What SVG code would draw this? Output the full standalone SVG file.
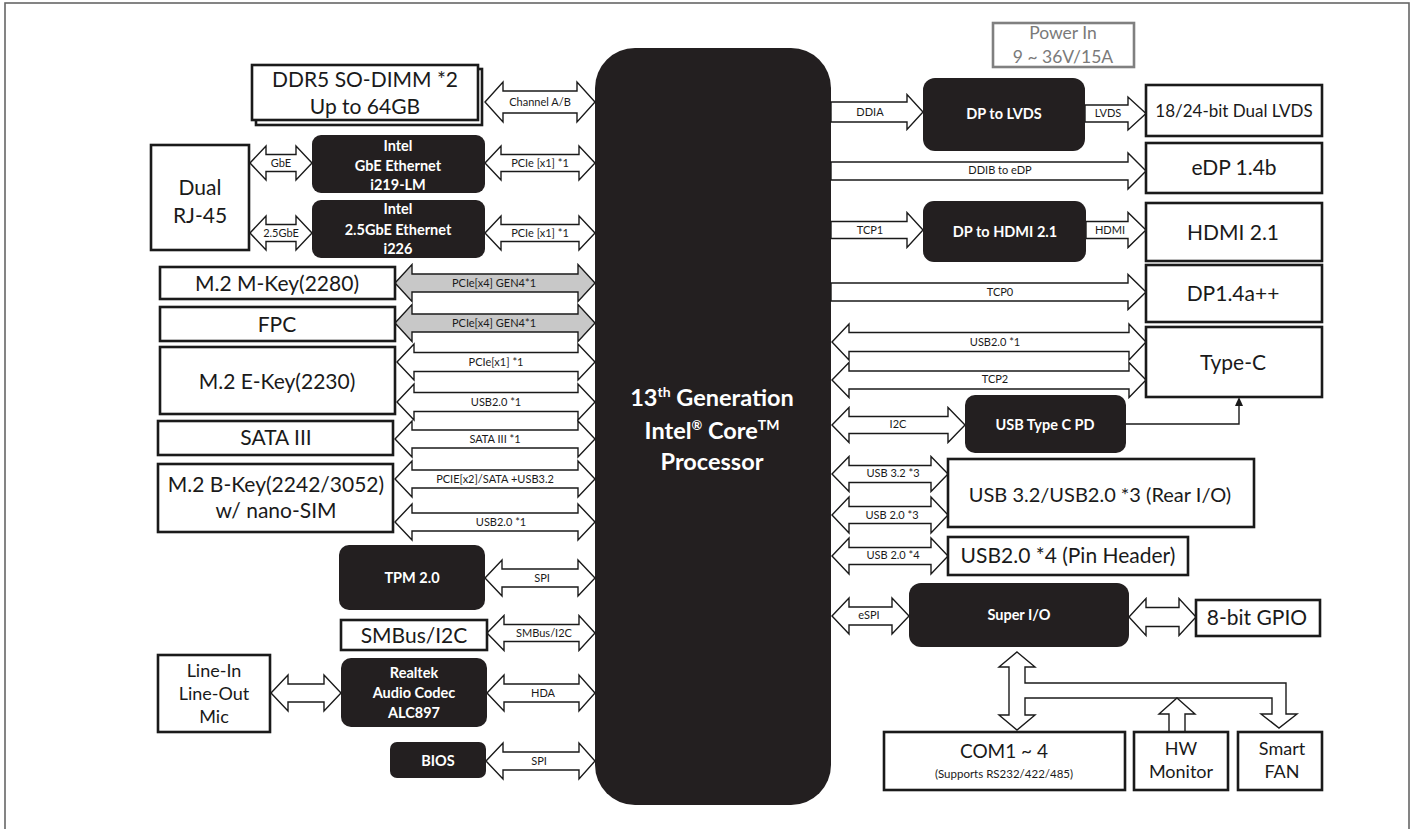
<svg xmlns="http://www.w3.org/2000/svg" width="1415" height="829" viewBox="0 0 1415 829">
<style>
.bx{fill:#fff;stroke:#1a1a1a;stroke-width:2.6}
.bk{fill:#231f20}
.ar{fill:#fff;stroke:#1a1a1a;stroke-width:1.4;stroke-linejoin:miter}
.ag{fill:#c8c8c8;stroke:#1a1a1a;stroke-width:1.4}
.t{font-family:Lato,"Liberation Sans",sans-serif;fill:#1a1a1a;text-anchor:middle}
.tl{font-size:21px}
.tm{font-size:18px}
.s{font-family:Lato,"Liberation Sans",sans-serif;fill:#1a1a1a;text-anchor:middle;font-size:11px}
.w{font-family:Lato,"Liberation Sans",sans-serif;fill:#fff;text-anchor:middle;font-weight:bold;font-size:14.5px}
</style>
<rect x="5" y="3" width="1404" height="840" fill="#fff" stroke="#666" stroke-width="1.6"/>

<g id="cpu">
<rect class="bk" x="595" y="48" width="236" height="757" rx="40"/>
<text class="w" style="font-size:23.5px" x="712" y="406">13<tspan font-size="14" dy="-9">th</tspan><tspan dy="9"> Generation</tspan></text>
<text class="w" style="font-size:23.5px" x="712" y="439">Intel<tspan font-size="13" dy="-9">®</tspan><tspan dy="9">  Core</tspan><tspan font-size="14" dy="-9">TM</tspan></text>
<text class="w" style="font-size:23.5px" x="712" y="470">Processor</text>
</g>

<g id="connectors">
<path class="ar" d="M485 102 L503 82 V91 H577 V82 L595 102 L577 122 V113 H503 V122 Z"/>
<path class="ar" d="M250 163 L266 146 V154.5 H296 V146 L312 163 L296 180 V171.5 H266 V180 Z"/>
<path class="ar" d="M485 163 L501 146 V154.5 H579 V146 L595 163 L579 180 V171.5 H501 V180 Z"/>
<path class="ar" d="M250 233 L266 216 V224.5 H296 V216 L312 233 L296 250 V241.5 H266 V250 Z"/>
<path class="ar" d="M485 233 L501 216 V224.5 H579 V216 L595 233 L579 250 V241.5 H501 V250 Z"/>
<path class="ag" d="M395 283 L412 264.5 V274 H578 V264.5 L595 283 L578 301.5 V292 H412 V301.5 Z"/>
<path class="ag" d="M395 323 L412 304.5 V314 H578 V304.5 L595 323 L578 341.5 V332 H412 V341.5 Z"/>
<path class="ar" d="M397 362 L414 344 V352.5 H578 V344 L595 362 L578 380 V371.5 H414 V380 Z"/>
<path class="ar" d="M397 402 L414 384 V392.5 H578 V384 L595 402 L578 420 V411.5 H414 V420 Z"/>
<path class="ar" d="M395 439 L412 421 V430 H578 V421 L595 439 L578 457 V448 H412 V457 Z"/>
<path class="ar" d="M395 479 L412 461 V470 H578 V461 L595 479 L578 497 V488 H412 V497 Z"/>
<path class="ar" d="M395 522 L412 504 V513 H578 V504 L595 522 L578 540 V531 H412 V540 Z"/>
<path class="ar" d="M485 578 L502 560 V569 H578 V560 L595 578 L578 596 V587 H502 V596 Z"/>
<path class="ar" d="M487 633 L504 615.5 V624.5 H579 V615.5 L595 633 L579 650.5 V641.5 H504 V650.5 Z"/>
<path class="ar" d="M487 693 L504 675 V684 H579 V675 L595 693 L579 711 V702 H504 V711 Z"/>
<path class="ar" d="M271 693 L288 675 V684 H324 V675 L341 693 L324 711 V702 H288 V711 Z"/>
<path class="ar" d="M486 761 L503 743 V752 H579 V743 L595 761 L579 779 V770 H503 V779 Z"/>

<path class="ar" d="M831 102 H907 V94.5 L923 112 L907 129.5 V122 H831 Z"/>
<path class="ar" d="M1085 105 H1128 V97 L1146 113.5 L1128 130 V122 H1085 Z"/>
<path class="ar" d="M831 162 H1128 V153 L1146 171 L1128 189 V180 H831 Z"/>
<path class="ar" d="M831 221.5 H907 V212.5 L923 230 L907 247.5 V238.5 H831 Z"/>
<path class="ar" d="M1086 221.5 H1128 V212.5 L1146 230 L1128 247.5 V238.5 H1086 Z"/>
<path class="ar" d="M831 283 H1128 V274.5 L1146 292 L1128 309.5 V301 H831 Z"/>
<path class="ar" d="M832 342 L849 324 V332.5 H1129 V324 L1146 342 L1129 360 V351.5 H849 V360 Z"/>
<path class="ar" d="M832 380 L849 362.5 V371 H1129 V362.5 L1146 380 L1129 397.5 V389 H849 V397.5 Z"/>
<path class="ar" d="M832 425 L849 407.5 V416.5 H948 V407.5 L965 425 L948 442.5 V433.5 H849 V442.5 Z"/>
<path class="ar" d="M832 474 L849 456.5 V465.5 H931 V456.5 L948 474 L931 491.5 V482.5 H849 V491.5 Z"/>
<path class="ar" d="M832 515 L849 497 V506.5 H931 V497 L948 515 L931 533 V523.5 H849 V533 Z"/>
<path class="ar" d="M832 556 L849 538 V547.5 H931 V538 L948 556 L931 574 V564.5 H849 V574 Z"/>
<path class="ar" d="M832 616 L849 598 V607 H892 V598 L909 616 L892 634 V625 H849 V634 Z"/>
<path class="ar" d="M1129 617 L1146 598.5 V607.5 H1179 V598.5 L1196 617 L1179 635.5 V626.5 H1146 V635.5 Z"/>
<path class="ar" d="M1017 652 L1035 667 H1025 V683 H1286 V714 H1297 L1279 728 L1261 714 H1272 V698 H1025 V715 H1035 L1017 730 L999 715 H1009 V667 H999 Z"/>
<path class="ar" d="M1177 698 L1195 714 H1185 V732 H1169 V714 H1159 Z"/>
<path d="M1126 424 H1239 V404" fill="none" stroke="#1a1a1a" stroke-width="1.4"/>
<path d="M1239 397 L1235 406 H1243 Z" fill="#1a1a1a"/>

<text class="s" x="540" y="106">Channel A/B</text>
<text class="s" x="281" y="167">GbE</text>
<text class="s" x="540" y="167">PCIe [x1] *1</text>
<text class="s" x="281" y="237">2.5GbE</text>
<text class="s" x="540" y="237">PCIe [x1] *1</text>
<text class="s" x="494" y="287">PCIe[x4] GEN4*1</text>
<text class="s" x="494" y="327">PCIe[x4] GEN4*1</text>
<text class="s" x="496" y="366">PCIe[x1] *1</text>
<text class="s" x="496" y="406">USB2.0 *1</text>
<text class="s" x="495" y="443">SATA III *1</text>
<text class="s" x="495" y="483">PCIE[x2]/SATA +USB3.2</text>
<text class="s" x="501" y="526">USB2.0 *1</text>
<text class="s" x="542" y="582">SPI</text>
<text class="s" x="544" y="637">SMBus/I2C</text>
<text class="s" x="543" y="697">HDA</text>
<text class="s" x="539" y="765">SPI</text>
<text class="s" x="870" y="116">DDIA</text>
<text class="s" x="1108" y="117">LVDS</text>
<text class="s" x="1000" y="174">DDIB to eDP</text>
<text class="s" x="870" y="234">TCP1</text>
<text class="s" x="1110" y="234">HDMI</text>
<text class="s" x="1000" y="296">TCP0</text>
<text class="s" x="995" y="346">USB2.0 *1</text>
<text class="s" x="995" y="383">TCP2</text>
<text class="s" x="898" y="428">I2C</text>
<text class="s" x="893" y="477">USB 3.2 *3</text>
<text class="s" x="892" y="519">USB 2.0 *3</text>
<text class="s" x="893" y="559">USB 2.0 *4</text>
<text class="s" x="869" y="619">eSPI</text>
</g>

<g id="ddr5">
<rect class="bx" x="256" y="69" width="226" height="56"/>
<rect class="bx" x="252" y="65" width="226" height="55"/>
<text class="t tl" x="365" y="87">DDR5 SO-DIMM *2</text>
<text class="t tl" x="365" y="114">Up to 64GB</text>
</g>
<g id="rj45">
<rect class="bx" x="151" y="145" width="98" height="105"/>
<text class="t tl" x="200" y="195">Dual</text>
<text class="t tl" x="200" y="223">RJ-45</text>
</g>
<g id="gbe">
<rect class="bk" x="312" y="135" width="173" height="58" rx="9"/>
<text class="w" x="398" y="151">Intel</text>
<text class="w" x="398" y="171">GbE Ethernet</text>
<text class="w" x="398" y="190">i219-LM</text>
</g>
<g id="gbe25">
<rect class="bk" x="312" y="200" width="173" height="58" rx="9"/>
<text class="w" x="398" y="214">Intel</text>
<text class="w" x="398" y="235">2.5GbE Ethernet</text>
<text class="w" x="398" y="254">i226</text>
</g>
<g id="mkey">
<rect class="bx" x="160" y="267" width="235" height="32"/>
<text class="t tl" x="277" y="291">M.2 M-Key(2280)</text>
</g>
<g id="fpc">
<rect class="bx" x="160" y="307" width="235" height="34"/>
<text class="t tl" x="277" y="332">FPC</text>
</g>
<g id="ekey">
<rect class="bx" x="160" y="347" width="235" height="67"/>
<text class="t tl" x="277" y="389">M.2 E-Key(2230)</text>
</g>
<g id="sata">
<rect class="bx" x="158" y="421" width="235" height="34"/>
<text class="t tl" x="276" y="445">SATA III</text>
</g>
<g id="bkey">
<rect class="bx" x="158" y="464" width="235" height="68"/>
<text class="t tl" x="276" y="492">M.2 B-Key(2242/3052)</text>
<text class="t tl" x="276" y="518">w/ nano-SIM</text>
</g>
<g id="tpm">
<rect class="bk" x="339" y="545" width="146" height="65" rx="10"/>
<text class="w" x="412" y="583">TPM 2.0</text>
</g>
<g id="smbus">
<rect class="bx" x="341" y="620" width="146" height="30"/>
<text class="t tl" x="414" y="643">SMBus/I2C</text>
</g>
<g id="audio">
<rect class="bk" x="341" y="658" width="146" height="69" rx="10"/>
<text class="w" x="414" y="678">Realtek</text>
<text class="w" x="414" y="698">Audio Codec</text>
<text class="w" x="414" y="718">ALC897</text>
</g>
<g id="linein">
<rect class="bx" x="158" y="655" width="112" height="77"/>
<text class="t tm" x="214" y="677">Line-In</text>
<text class="t tm" x="214" y="700">Line-Out</text>
<text class="t tm" x="214" y="723">Mic</text>
</g>
<g id="bios">
<rect class="bk" x="390" y="742" width="96" height="36" rx="7"/>
<text class="w" x="438" y="766">BIOS</text>
</g>

<g id="power">
<rect x="993" y="23" width="141" height="44" fill="#fff" stroke="#808080" stroke-width="2.6"/>
<text class="t" style="font-size:17.5px;fill:#7a7a7a" x="1063" y="39">Power In</text>
<text class="t" style="font-size:17.5px;fill:#7a7a7a" x="1063" y="63">9 ~ 36V/15A</text>
</g>
<g id="dp2lvds">
<rect class="bk" x="923" y="78" width="162" height="73" rx="12"/>
<text class="w" x="1004" y="119">DP to LVDS</text>
</g>
<g id="lvds">
<rect class="bx" x="1146" y="85" width="176" height="51"/>
<text class="t" style="font-size:17px" x="1234" y="117">18/24-bit Dual LVDS</text>
</g>
<g id="edp">
<rect class="bx" x="1146" y="143" width="176" height="50"/>
<text class="t tl" x="1234" y="175">eDP 1.4b</text>
</g>
<g id="dp2hdmi">
<rect class="bk" x="923" y="201" width="163" height="61" rx="11"/>
<text class="w" x="1005" y="237">DP to HDMI 2.1</text>
</g>
<g id="hdmi">
<rect class="bx" x="1146" y="203" width="176" height="58"/>
<text class="t tl" x="1233" y="240">HDMI 2.1</text>
</g>
<g id="dp14">
<rect class="bx" x="1146" y="265" width="176" height="57"/>
<text class="t tl" x="1233" y="301">DP1.4a++</text>
</g>
<g id="typec">
<rect class="bx" x="1146" y="327" width="176" height="70"/>
<text class="t tl" x="1233" y="370">Type-C</text>
</g>
<g id="pd">
<rect class="bk" x="965" y="395" width="161" height="58" rx="10"/>
<text class="w" x="1045" y="430">USB Type C PD</text>
</g>
<g id="usbrear">
<rect class="bx" x="948" y="459" width="306" height="68"/>
<text class="t" style="font-size:20px" x="1100" y="502">USB 3.2/USB2.0 *3 (Rear I/O)</text>
</g>
<g id="usbpin">
<rect class="bx" x="948" y="537" width="240" height="38"/>
<text class="t tl" x="1068" y="563">USB2.0 *4 (Pin Header)</text>
</g>
<g id="superio">
<rect class="bk" x="909" y="583" width="220" height="64" rx="12"/>
<text class="w" x="1019" y="620">Super I/O</text>
</g>
<g id="gpio">
<rect class="bx" x="1196" y="600" width="124" height="36"/>
<text class="t tl" x="1257" y="625">8-bit GPIO</text>
</g>
<g id="com">
<rect class="bx" x="884" y="732" width="241" height="58"/>
<text class="t" style="font-size:19px" x="1004" y="758">COM1 ~ 4</text>
<text class="t" style="font-size:11.5px" x="1004" y="778">(Supports RS232/422/485)</text>
</g>
<g id="hwmon">
<rect class="bx" x="1134" y="732" width="94" height="58"/>
<text class="t tm" x="1181" y="755">HW</text>
<text class="t tm" x="1181" y="778">Monitor</text>
</g>
<g id="fan">
<rect class="bx" x="1238" y="732" width="84" height="58"/>
<text class="t tm" x="1282" y="755">Smart</text>
<text class="t tm" x="1282" y="778">FAN</text>
</g>
</svg>
